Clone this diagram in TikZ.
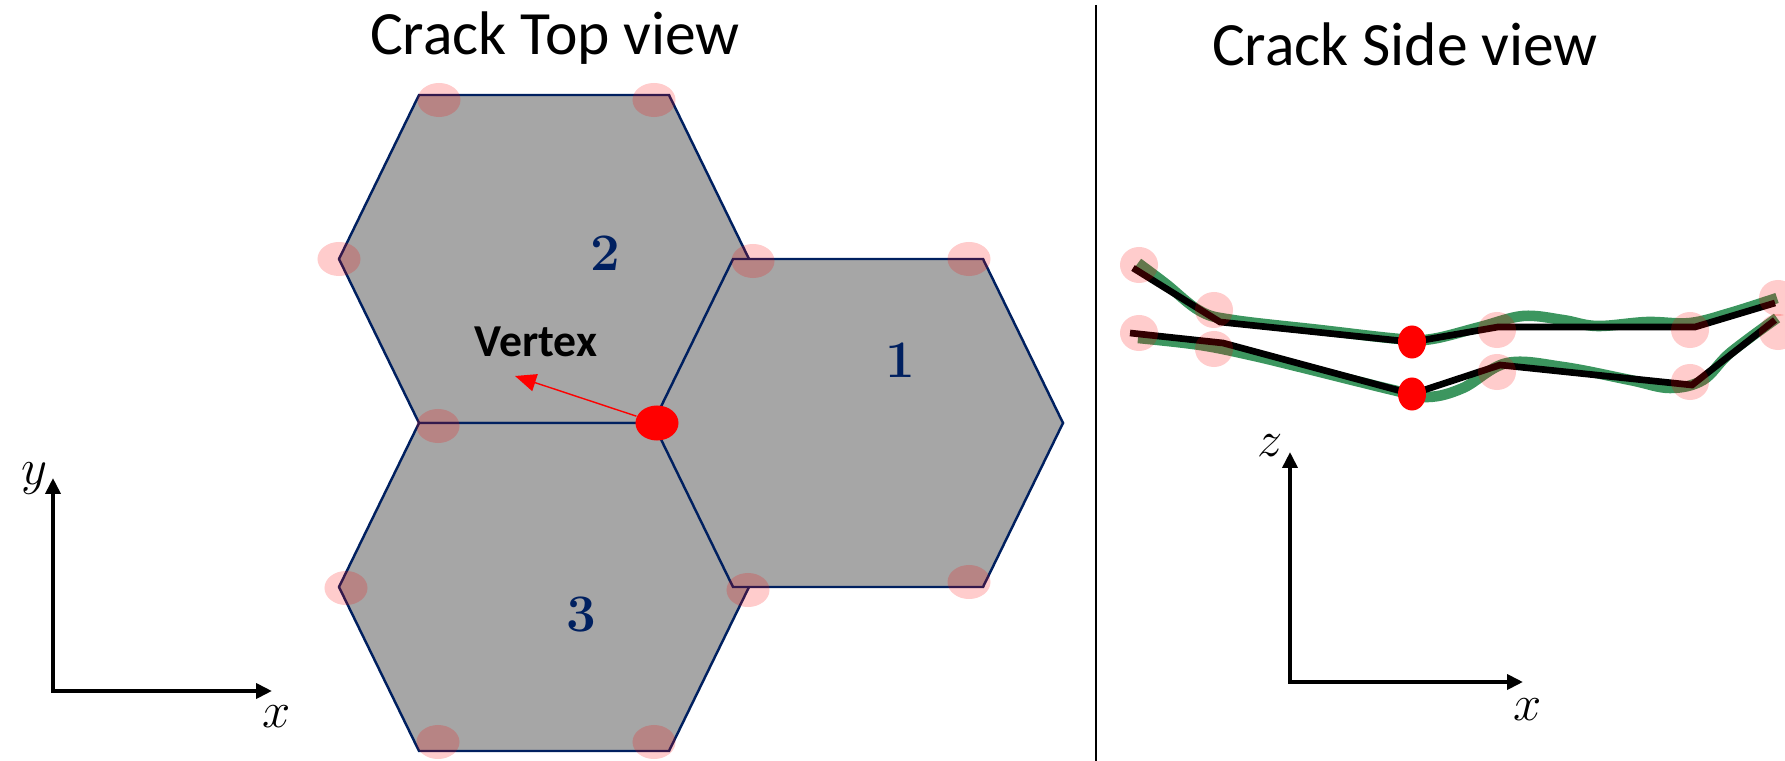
\documentclass[tikz,border=0pt]{standalone}
\usepackage{fontspec}
\newfontfamily\calfont{Carlito}
\usetikzlibrary{arrows.meta}
\usetikzlibrary{shapes.geometric}
\definecolor{hexgray}{RGB}{166,166,166}
\definecolor{hexedge}{RGB}{0,32,96}
\definecolor{crackgreen}{RGB}{60,150,95}
\begin{document}
\begin{tikzpicture}[x=0.01cm,y=-0.01cm,
    hex cell/.style={fill=hexgray,draw=hexedge,line width=0.7pt},
    pink mark/.style={fill=red,fill opacity=0.2},
    grain num/.style={text=hexedge,font=\bfseries\fontsize{15}{17}\selectfont},
    title text/.style={font=\calfont\fontsize{17.5}{20}\selectfont,anchor=base},
    axis arrow/.style={line width=1.1pt,{Triangle[length=4.5pt,width=4.2pt]}-{Triangle[length=4.5pt,width=4.2pt]}},
    axis label/.style={font=\fontsize{15}{17}\selectfont},
    crack green/.style={crackgreen,line width=3pt},
    crack line/.style={black,line width=1.9pt,line join=miter}]
  \useasboundingbox (0,0) rectangle (1785,761);

  % titles and divider
  \node[title text] (toptitle) at (555,55) {Crack Top view};
  \node[title text] (sidetitle) at (1405,66) {Crack Side view};
  \draw[line width=0.8pt] (1096,5) -- (1096,761);

  % top view: three grains (grain 1 last, on top)
  \foreach \cx/\cy in {544/259,544/587,858/423}
    \draw[hex cell,shift={(\cx,\cy)}] (205,0) -- (125,164) -- (-125,164) -- (-205,0) -- (-125,-164) -- (125,-164) -- cycle;
  \node[grain num] (g1) at (900,360) {1};
  \node[grain num] (g2) at (605,253) {2};
  \node[grain num] (g3) at (581,615) {3};

  % vertex marks
  \foreach \px/\py in {439/100,654/100,339/259,753/261,969/259,438/426,346/588,748/590,969/582,438/742,654/742}
    \fill[pink mark] (\px,\py) ellipse [x radius=0.215cm,y radius=0.17cm];
  \node[ellipse,fill=red,inner sep=0pt,minimum width=0.43cm,minimum height=0.35cm] (vtx) at (657,423) {};
  \coordinate (vtip) at (515,376);
  \draw[red,line width=0.4pt,-{Triangle[length=6pt,width=5pt]}] (vtx) -- (vtip);
  \node[font=\calfont\bfseries\fontsize{13}{15}\selectfont,anchor=base] (vlab) at (536,357) {Vertex};

  % side view: crack profiles
  \draw[crack green] plot[smooth,tension=0.6] coordinates {(1138,263) (1166,284) (1200,311) (1233,320) (1320,330) (1400,339) (1432,339) (1480,327) (1523,316) (1563,320) (1597,326) (1647,322) (1690,323) (1730,313) (1777,298)};
  \draw[crack green] plot[smooth,tension=0.6] coordinates {(1138,338) (1200,345) (1250,355) (1300,367) (1393,390) (1428,397) (1463,388) (1507,363) (1563,367) (1630,380) (1670,388) (1703,380) (1730,353) (1777,318)};
  \draw[crack line] (1133,268) -- (1220,322) -- (1412,342) -- (1498,327) -- (1695,327) -- (1775,303);
  \draw[crack line] (1130,333) -- (1223,343) -- (1412,394) -- (1500,365) -- (1692,385) -- (1775,320);
  \foreach \px/\py in {1139/265,1214/310,1497/330,1690/330,1778/298,1139/333,1214/349,1497/372,1690/382,1778/332}
    \fill[pink mark] (\px,\py) ellipse [x radius=0.19cm,y radius=0.18cm];
  \fill[red] (1412,342) ellipse [x radius=0.14cm,y radius=0.165cm];
  \fill[red] (1412,394) ellipse [x radius=0.14cm,y radius=0.165cm];

  % axes
  \coordinate (o1) at (53,691);
  \coordinate (y1) at (53,478);
  \coordinate (x1) at (272,691);
  \draw[axis arrow] (y1) -- (o1) -- (x1);
  \node[axis label] (ylab) at (34,479) {$y$};
  \node[axis label] (xlab) at (277,717) {$x$};
  \coordinate (o2) at (1290,682);
  \coordinate (z2) at (1290,452);
  \coordinate (x2) at (1523,682);
  \draw[axis arrow] (z2) -- (o2) -- (x2);
  \node[axis label] (zlab) at (1270,446) {$z$};
  \node[axis label] (xlab2) at (1528,710) {$x$};
\end{tikzpicture}
\end{document}
